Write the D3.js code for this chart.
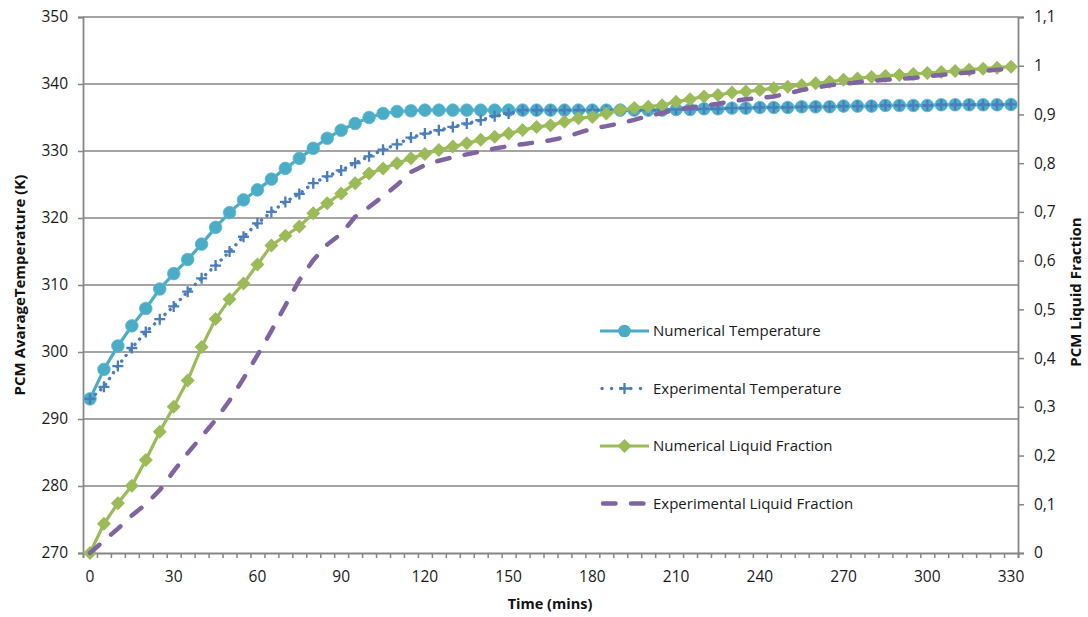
<!DOCTYPE html>
<html>
<head>
<meta charset="utf-8">
<script src="https://cdn.jsdelivr.net/npm/d3@7"></script>
<style>
  html, body { margin: 0; padding: 0; background: #fff; }
  svg { display: block; font-family: "Open Sans", "Noto Sans", sans-serif; }
</style>
</head>
<body>
<svg id="chart" width="1088" height="617"></svg>
<script>
// ---------------- DATA ----------------
const times = [0,5,10,15,20,25,30,35,40,45,50,55,60,65,70,75,80,85,90,95,100,105,110,115,120,125,130,135,140,145,150,155,160,165,170,175,180,185,190,195,200,205,210,215,220,225,230,235,240,245,250,255,260,265,270,275,280,285,290,295,300,305,310,315,320,325,330];

const numericalTemperature = [293.0,297.4,300.9,303.9,306.5,309.4,311.7,313.8,316.1,318.6,320.8,322.7,324.2,325.8,327.4,328.9,330.4,331.9,333.1,334.1,335.0,335.6,335.9,336.0,336.1,336.1,336.1,336.1,336.1,336.1,336.1,336.1,336.1,336.1,336.1,336.1,336.1,336.1,336.1,336.1,336.1,336.1,336.2,336.2,336.3,336.3,336.4,336.4,336.5,336.5,336.5,336.6,336.6,336.6,336.7,336.7,336.7,336.8,336.8,336.8,336.8,336.9,336.9,336.9,336.9,336.9,336.95];

const experimentalTemperature = [293.0,294.8,297.9,300.6,303.0,304.9,306.8,309.0,311.0,312.9,315.0,317.2,319.2,320.9,322.4,323.6,325.2,326.2,327.1,328.2,329.2,330.2,331.0,332.0,332.6,333.1,333.6,334.1,334.6,335.2,335.6,336.1,336.1,336.1,336.1,336.1,336.1,336.1,336.1,336.1,336.1,336.1,336.2,336.2,336.3,336.3,336.4,336.4,336.5,336.5,336.5,336.6,336.6,336.6,336.7,336.7,336.7,336.8,336.8,336.8,336.8,336.9,336.9,336.9,336.9,336.9,336.95];

const numericalLiquidFraction = [0,0.060,0.102,0.138,0.191,0.249,0.300,0.354,0.423,0.480,0.521,0.553,0.592,0.631,0.651,0.670,0.697,0.718,0.738,0.759,0.779,0.789,0.800,0.810,0.819,0.827,0.834,0.841,0.848,0.854,0.861,0.868,0.874,0.878,0.885,0.892,0.895,0.902,0.909,0.913,0.916,0.919,0.926,0.931,0.937,0.940,0.945,0.947,0.950,0.954,0.957,0.960,0.964,0.967,0.971,0.974,0.977,0.979,0.981,0.983,0.985,0.987,0.989,0.992,0.994,0.996,0.998];

const experimentalLiquidFraction = [0,0.025,0.050,0.077,0.100,0.129,0.168,0.205,0.239,0.273,0.313,0.358,0.406,0.456,0.508,0.560,0.601,0.633,0.655,0.690,0.710,0.732,0.755,0.782,0.796,0.805,0.812,0.818,0.824,0.830,0.835,0.839,0.843,0.847,0.853,0.862,0.871,0.876,0.882,0.889,0.897,0.903,0.910,0.914,0.918,0.922,0.927,0.931,0.934,0.937,0.943,0.950,0.955,0.960,0.963,0.966,0.969,0.971,0.973,0.975,0.978,0.981,0.984,0.986,0.989,0.992,0.993];

const xTickLabels = [0,30,60,90,120,150,180,210,240,270,300,330];
const leftTicks = [270,280,290,300,310,320,330,340,350];
const rightTicks = [0,0.1,0.2,0.3,0.4,0.5,0.6,0.7,0.8,0.9,1,1.1];
const seriesNames = ["Numerical Temperature","Experimental Temperature","Numerical Liquid Fraction","Experimental Liquid Fraction"];

// ---------------- LAYOUT ----------------
const L = 83, R = 1018, T = 17, B = 553;
const svg = d3.select("#chart");
const grey = "#868686";
const cCyan = "#4BACC6", cBlue = "#4A7EBB", cGreen = "#9BBB59", cPurple = "#8064A2";

const xBand = d3.scaleBand().domain(times).range([L, R]).paddingInner(0).paddingOuter(0);
const xc = t => xBand(t) + xBand.bandwidth() / 2;
const yL = d3.scaleLinear().domain([270, 350]).range([B, T]);
const yR = d3.scaleLinear().domain([0, 1.1]).range([B, T]);

// gridlines
svg.append("g").selectAll("line").data(leftTicks.slice(1)).join("line")
  .attr("x1", L).attr("x2", R).attr("y1", d => yL(d)).attr("y2", d => yL(d))
  .attr("stroke", grey).attr("stroke-width", 1.6);

// left axis
const gL = svg.append("g").attr("transform", `translate(${L},0)`)
  .call(d3.axisLeft(yL).tickValues(leftTicks).tickSize(5).tickPadding(10).tickFormat(d3.format("d")));
// right axis
const gR = svg.append("g").attr("transform", `translate(${R},0)`)
  .call(d3.axisRight(yR).tickValues(rightTicks).tickSize(6).tickPadding(10)
    .tickFormat(d => d3.format(".1~f")(d).replace(".", ",")));
// bottom axis minor ticks at category boundaries
const xIdx = d3.scaleLinear().domain([0, times.length]).range([L, R]);
const gB = svg.append("g").attr("transform", `translate(0,${B})`)
  .call(d3.axisBottom(xIdx).tickValues(d3.range(times.length + 1)).tickSize(5).tickFormat(""));
// bottom labels
const gBL = svg.append("g").attr("transform", `translate(0,${B})`)
  .call(d3.axisBottom(xBand).tickValues(xTickLabels).tickSize(0).tickPadding(18));
gBL.select(".domain").remove();

[gL, gR, gB].forEach(g => {
  g.select(".domain").attr("stroke", grey).attr("stroke-width", 1.8);
  g.selectAll(".tick line").attr("stroke", grey).attr("stroke-width", 1.5);
});
[gL, gR, gBL].forEach(g => {
  g.selectAll("text").attr("font-size", 15.5).attr("fill", "#1a1a1a")
    .attr("font-family", "'Open Sans', sans-serif");
});

// ---------------- SERIES ----------------
const lineL = d3.line().x((d, i) => xc(times[i])).y(d => yL(d));
const lineR = d3.line().x((d, i) => xc(times[i])).y(d => yR(d));

const plot = svg.append("g");
// Numerical temperature
plot.append("path").datum(numericalTemperature).attr("d", lineL)
  .attr("fill", "none").attr("stroke", cCyan).attr("stroke-width", 3.2);
plot.append("g").selectAll("circle").data(numericalTemperature).join("circle")
  .attr("cx", (d, i) => xc(times[i])).attr("cy", d => yL(d)).attr("r", 6.3)
  .attr("fill", cCyan).attr("stroke", "#5cb8d0").attr("stroke-width", 0.8);

// Experimental temperature
plot.append("path").datum(experimentalTemperature).attr("d", lineL)
  .attr("fill", "none").attr("stroke", cBlue).attr("stroke-width", 3.4)
  .attr("stroke-dasharray", "0.1 7").attr("stroke-linecap", "round");
const plusPath = "M-5.5,0H5.5M0,-5.5V5.5";
plot.append("g").selectAll("path").data(experimentalTemperature).join("path")
  .attr("transform", (d, i) => `translate(${xc(times[i])},${yL(d)})`)
  .attr("d", plusPath).attr("stroke", cBlue).attr("stroke-width", 2.3).attr("fill", "none");

// Numerical liquid fraction
const diamond = "M0,-7L7,0L0,7L-7,0Z";
plot.append("path").datum(numericalLiquidFraction).attr("d", lineR)
  .attr("fill", "none").attr("stroke", cGreen).attr("stroke-width", 3.2);
plot.append("g").selectAll("path").data(numericalLiquidFraction).join("path")
  .attr("transform", (d, i) => `translate(${xc(times[i])},${yR(d)})`)
  .attr("d", diamond).attr("fill", cGreen);

// Experimental liquid fraction
plot.append("path").datum(experimentalLiquidFraction).attr("d", lineR)
  .attr("fill", "none").attr("stroke", cPurple).attr("stroke-width", 4.5)
  .attr("stroke-dasharray", "12.5 15.5").attr("stroke-linecap", "round");

// ---------------- LEGEND ----------------
const legY = [331, 388.5, 446, 503.5];
const leg = svg.append("g");
const lx1 = 600, lx2 = 649, lxm = 624.5;
// row 0
leg.append("line").attr("x1", lx1).attr("x2", lx2).attr("y1", legY[0]).attr("y2", legY[0])
  .attr("stroke", cCyan).attr("stroke-width", 3.2);
leg.append("circle").attr("cx", lxm).attr("cy", legY[0]).attr("r", 6.3).attr("fill", cCyan);
// row 1
leg.append("line").attr("x1", lx1 + 2).attr("x2", lx2).attr("y1", legY[1]).attr("y2", legY[1])
  .attr("stroke", cBlue).attr("stroke-width", 3.4).attr("stroke-dasharray", "0.1 9.5").attr("stroke-linecap", "round");
leg.append("path").attr("transform", `translate(${lxm},${legY[1]})`).attr("d", plusPath)
  .attr("stroke", cBlue).attr("stroke-width", 2.3);
// row 2
leg.append("line").attr("x1", lx1).attr("x2", lx2).attr("y1", legY[2]).attr("y2", legY[2])
  .attr("stroke", cGreen).attr("stroke-width", 3.2);
leg.append("path").attr("transform", `translate(${lxm},${legY[2]})`).attr("d", diamond).attr("fill", cGreen);
// row 3
leg.append("line").attr("x1", lx1 + 3).attr("x2", lx2 - 3).attr("y1", legY[3]).attr("y2", legY[3])
  .attr("stroke", cPurple).attr("stroke-width", 4.5).attr("stroke-dasharray", "12.5 15.5").attr("stroke-linecap", "round");

leg.selectAll("text").data(seriesNames).join("text")
  .attr("x", 653).attr("y", (d, i) => legY[i]).attr("dy", "0.35em")
  .attr("font-size", 15).attr("fill", "#1a1a1a").text(d => d);

// ---------------- TITLES ----------------
svg.append("text").attr("transform", "translate(25,285) rotate(-90)")
  .attr("text-anchor", "middle").attr("font-weight", "bold").attr("font-size", 15).attr("fill", "#111")
  .text("PCM AvarageTemperature (K)");
svg.append("text").attr("transform", "translate(1081,292) rotate(-90)")
  .attr("text-anchor", "middle").attr("font-weight", "bold").attr("font-size", 15).attr("fill", "#111")
  .text("PCM Liquid Fraction");
svg.append("text").attr("x", 550).attr("y", 609)
  .attr("text-anchor", "middle").attr("font-weight", "bold").attr("font-size", 14.5).attr("fill", "#111")
  .text("Time (mins)");
</script>
</body>
</html>
